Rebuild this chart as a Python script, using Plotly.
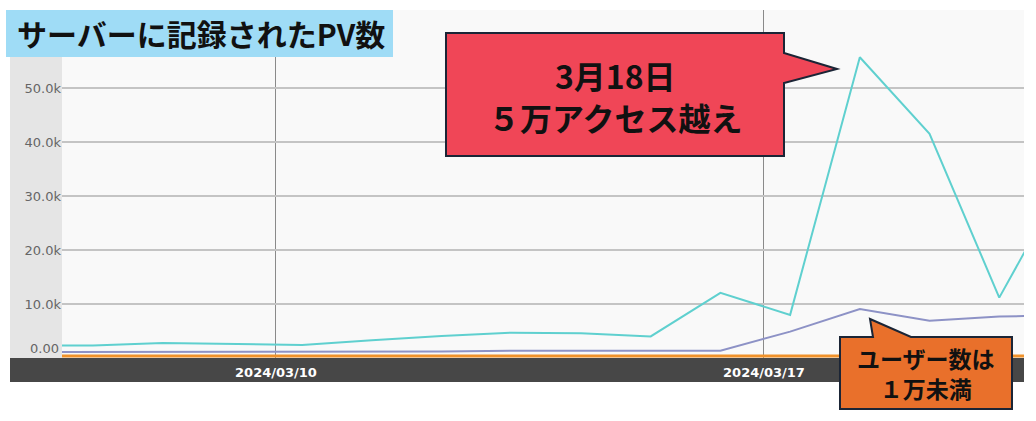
import plotly.graph_objects as go

# daily values (points sit at 09:00 local time)
dates = ["2024-03-%02d 09:00" % d for d in range(6, 22)]
pv = [2300, 2300, 2800, 2600, 2400, 3300, 4100, 4700, 4600, 4000,
      12100, 8000, 55800, 41600, 11200, 34500]
users = [1100, 1100, 1100, 1100, 1100, 1100, 1200, 1350, 1300, 1350,
         1350, 4900, 9100, 6900, 7700, 7900]
other = [350, 350, 350, 350, 350, 350, 350, 350, 350, 350,
         350, 350, 350, 350, 350, 350]

y_ticks = [10000, 20000, 30000, 40000, 50000]
y_labels = ["10.0k", "20.0k", "30.0k", "40.0k", "50.0k"]
x_ticks = ["2024-03-10", "2024-03-17"]

W, H = 1036, 421


def px(x):
    return x / W


def py(y):
    return 1 - y / H


def path(points):
    return "M " + " L ".join("%.5f,%.5f" % (px(a), py(b)) for a, b in points) + " Z"


fig = go.Figure()
fig.add_trace(go.Scatter(x=dates, y=other, mode="lines",
                         line=dict(color="#f0922b", width=3)))
fig.add_trace(go.Scatter(x=dates, y=users, mode="lines",
                         line=dict(color="#8d92c6", width=2)))
fig.add_trace(go.Scatter(x=dates, y=pv, mode="lines",
                         line=dict(color="#5fd0cf", width=2)))

fig.update_layout(
    width=W, height=H,
    margin=dict(l=0, r=0, t=0, b=0),
    paper_bgcolor="white",
    plot_bgcolor="#f9f9f9",
    showlegend=False,
    hovermode=False,
    xaxis=dict(
        domain=[px(62), px(1024)],
        type="date",
        range=["2024-03-06 22:20", "2024-03-20 17:31"],
        tickvals=x_ticks,
        tickformat="<b>%Y/%m/%d</b>",
        tickfont=dict(family="DejaVu Sans", size=13, color="white"),
        ticklabelstandoff=5,
        showgrid=True, gridcolor="#8a8a8a", gridwidth=1,
        zeroline=False, showline=False, automargin=False,
    ),
    yaxis=dict(
        domain=[py(358), py(10)],
        range=[0, 64560],
        tickvals=y_ticks,
        ticktext=y_labels,
        tickfont=dict(family="DejaVu Sans", size=13, color="#666666"),
        showgrid=True, gridcolor="#c4c4c4", gridwidth=2,
        zeroline=False, showline=False, automargin=False,
    ),
)

# label column and dark date bar
fig.add_shape(type="rect", xref="paper", yref="paper", layer="below",
              x0=px(10), x1=px(62), y0=py(358), y1=py(57),
              fillcolor="#e5e5e5", line_width=0)
fig.add_shape(type="rect", xref="paper", yref="paper", layer="below",
              x0=px(10), x1=px(1024), y0=py(382), y1=py(358),
              fillcolor="#474747", line_width=0)

fig.add_annotation(xref="paper", yref="paper", x=px(61), y=py(348),
                   text="0.00", showarrow=False, xanchor="right", yanchor="middle",
                   font=dict(family="DejaVu Sans", size=13, color="#666666"))

# title box
fig.add_shape(type="rect", xref="paper", yref="paper", layer="above",
              x0=px(6), x1=px(393), y0=py(57), y1=py(10),
              fillcolor="#9fdcf6", line_width=0)
fig.add_annotation(xref="paper", yref="paper", x=px(15), y=py(33),
                   text="<b>サーバーに記録されたPV数</b>", showarrow=False,
                   xanchor="left", yanchor="middle",
                   font=dict(family="Noto Sans CJK JP", size=30, color="#111111"))

# red callout
fig.add_shape(type="path", xref="paper", yref="paper", layer="above",
              path=path([(446, 33), (784, 33), (784, 53), (837, 69),
                         (784, 83), (784, 156), (446, 156)]),
              fillcolor="#f04657", line=dict(color="#1b2536", width=2))
fig.add_annotation(xref="paper", yref="paper", x=px(615), y=py(96),
                   text="<b>3月18日<br>５万アクセス越え</b>", showarrow=False,
                   xanchor="center", yanchor="middle",
                   font=dict(family="Noto Sans CJK JP", size=32, color="#111111"))

# orange callout
fig.add_shape(type="path", xref="paper", yref="paper", layer="above",
              path=path([(840, 337), (873, 337), (870, 319), (911, 337),
                         (1012, 337), (1012, 409), (840, 409)]),
              fillcolor="#e9702b", line=dict(color="#1b2536", width=2))
fig.add_annotation(xref="paper", yref="paper", x=px(926), y=py(373),
                   text="<b>ユーザー数は<br>１万未満</b>", showarrow=False,
                   xanchor="center", yanchor="middle",
                   font=dict(family="Noto Sans CJK JP", size=23, color="#111111"))

fig.write_html("out.html", config={"displayModeBar": False},
               post_script="document.body.style.margin='0px';")
